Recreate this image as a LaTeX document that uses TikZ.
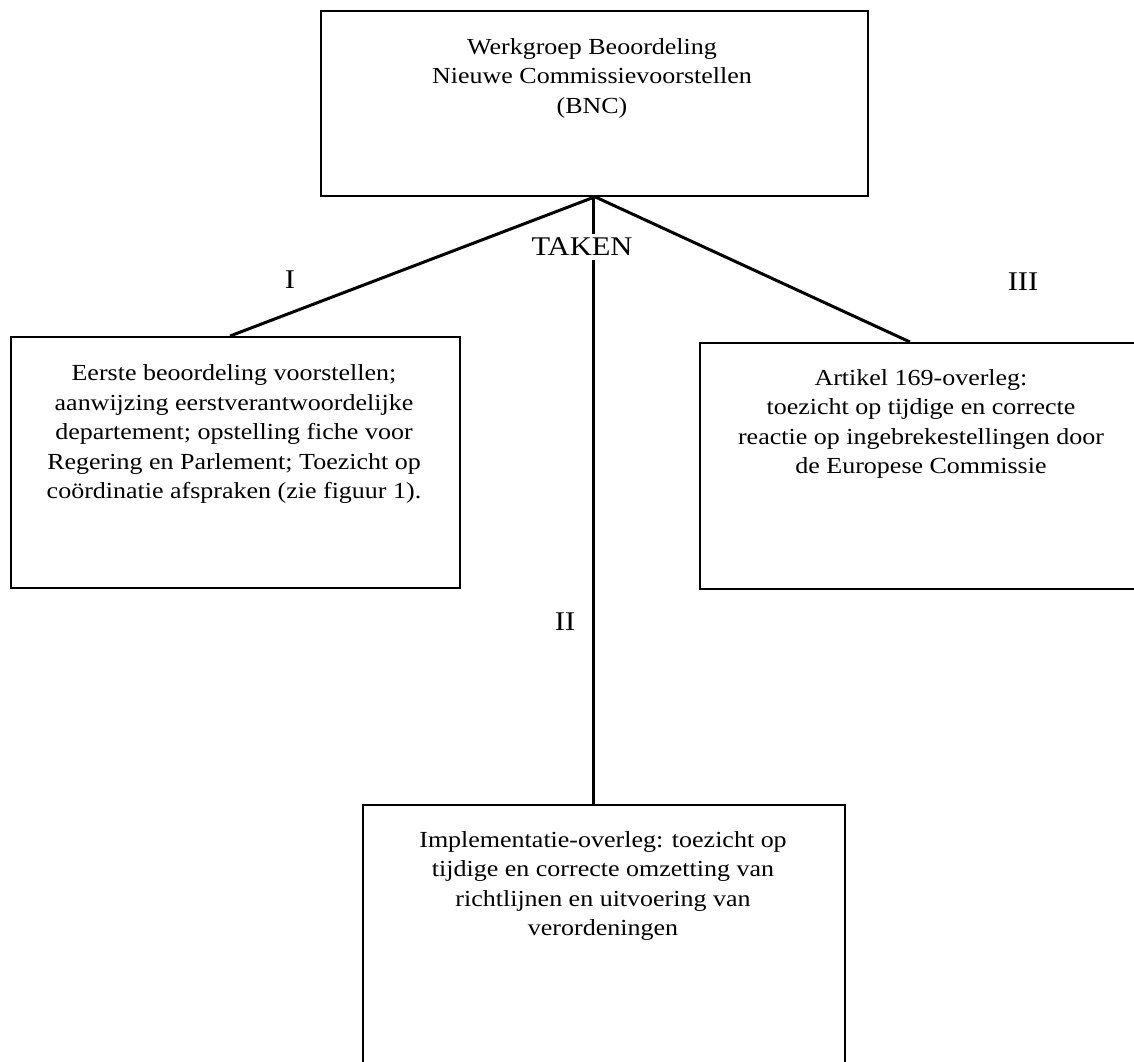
\documentclass[tikz,border=0pt]{standalone}
\usepackage{fontspec}
\setmainfont[FakeStretch=1.13]{Liberation Serif}
\usetikzlibrary{calc}
\begin{document}
\begin{tikzpicture}[x=1pt,y=-1pt,
  box/.style={draw, line width=1.8pt, rectangle, inner sep=0pt, anchor=north west},
  txt/.style={align=center, inner sep=0pt, font=\fontsize{23}{29.5}\selectfont},
  lbl/.style={inner sep=0pt, font=\fontsize{27}{30}\selectfont},
  conn/.style={line width=3pt}]
\useasboundingbox (0,0) rectangle (1134,1061);
\clip (0,0) rectangle (1134,1061);
\fill[white] (0,0) rectangle (1134,1061);

% boxes
\node[box, minimum width=547pt, minimum height=185pt] (bnc) at (320,10) {};
\node[box, minimum width=449pt, minimum height=251pt] (eerste) at (10,336) {};
\node[box, minimum width=447pt, minimum height=246pt] (artikel) at (699,342) {};
\node[box, minimum width=482pt, minimum height=280pt] (impl) at (362,804) {};

% texts
\node[txt] (bnct) at (592,78) {Werkgroep Beoordeling\\Nieuwe Commissievoorstellen\\(BNC)};
\node[txt] (eerstet) at (234,434) {Eerste beoordeling voorstellen;\\aanwijzing eerstverantwoordelijke\\departement; opstelling fiche voor\\Regering en Parlement; Toezicht op\\coördinatie afspraken (zie figuur 1).};
\node[txt] (artikelt) at (921,424) {Artikel 169-overleg:\\toezicht op tijdige en correcte\\reactie op ingebrekestellingen door\\de Europese Commissie};
\node[txt] (implt) at (603,886) {Implementatie-overleg: toezicht op\\tijdige en correcte omzetting van\\richtlijnen en uitvoering van\\verordeningen};

% connectors
\coordinate (apex) at ($(bnc.south west)+(275,0)$);
\coordinate (eend) at ($(eerste.north west)+(220,0)$);
\coordinate (aend) at ($(artikel.north west)+(211,0)$);
\coordinate (iend) at ($(impl.north west)+(231,0)$);
\draw[conn] (apex) -- (eend);
\draw[conn] (apex) -- (aend);
\draw[conn] (apex -| iend) -- (iend);

% labels
\node[lbl, fill=white, inner ysep=4pt, inner xsep=1pt] (taken) at (582,247) {TAKEN};
\node[lbl] (l1) at (290,280) {I};
\node[lbl] (l2) at (565,622) {II};
\node[lbl] (l3) at (1023,282) {III};
\end{tikzpicture}
\end{document}
